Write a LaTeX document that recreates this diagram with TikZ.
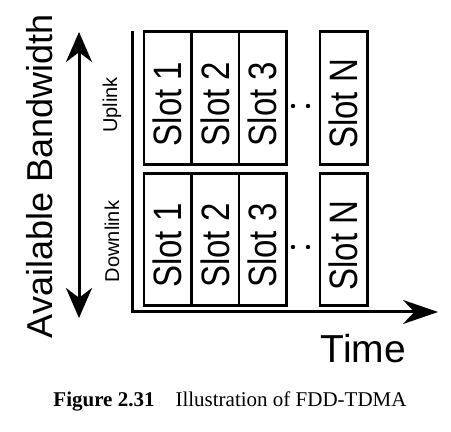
\documentclass[tikz,border=0pt]{standalone}
\usepackage{fontspec}
\setmainfont{Liberation Serif}
\setsansfont{Liberation Sans}
\usetikzlibrary{positioning,arrows.meta}
\tikzset{
 slotbox/.style={draw, line width=2.6pt, rotate=90, minimum width=132.5pt, minimum height=47.5pt, inner sep=0pt, font=\sffamily\fontsize{33}{33}\selectfont},
 linklabel/.style={rotate=90, inner sep=0pt, font=\sffamily\fontsize{20}{20}\selectfont},
 axisline/.style={line width=3pt}
}
\newcommand{\slotnode}[4]{%
 \node[slotbox] (#3) at (#1,#2) {\scalebox{1}[1.2]{Slot #4}\hspace*{12pt}};}

\begin{document}
\begin{tikzpicture}[x=1pt,y=1pt]
\useasboundingbox (0,0) rectangle (451,432);
% uplink row
\slotnode{167.75}{334}{u1}{1}
\slotnode{215.25}{334}{u2}{2}
\slotnode{262.75}{334}{u3}{3}
\slotnode{343.75}{334}{uN}{N}
% downlink row
\slotnode{167.75}{192.5}{d1}{1}
\slotnode{215.25}{192.5}{d2}{2}
\slotnode{262.75}{192.5}{d3}{3}
\slotnode{343.75}{192.5}{dN}{N}
\fill (293,326) circle (2.2pt) (308,326) circle (2.2pt);
\fill (293,185) circle (2.2pt) (308,185) circle (2.2pt);
\node[linklabel] (up) at (112,327) {Uplink};
\node[linklabel] (down) at (112,190.5) {Downlink};
% axes
\coordinate (ytop) at (132,401);
\coordinate (origin) at (132,120);
\coordinate (xend) at (438,120);
\draw[axisline, -{Stealth[length=35pt,width=24pt]}] (ytop) -- (origin) -- (xend);
\coordinate (bwtop) at (79,400);
\coordinate (bwbot) at (79,114);
\draw[axisline, {Stealth[length=30pt,width=26pt]}-{Stealth[length=30pt,width=26pt]}] (bwtop) -- (bwbot);
\node[rotate=90, inner sep=0pt, font=\sffamily\fontsize{36}{36}\selectfont] (bw) at (40,255.5) {Available Bandwidth};
\node[anchor=base, inner sep=0pt, font=\sffamily\fontsize{39}{39}\selectfont] (time) at (363.5,69) {Time};
\node[anchor=base, inner sep=0pt, font=\fontsize{21}{21}\selectfont] (cap) at (230,25) {\textbf{Figure 2.31}\quad Illustration of FDD-TDMA};
\end{tikzpicture}
\end{document}
